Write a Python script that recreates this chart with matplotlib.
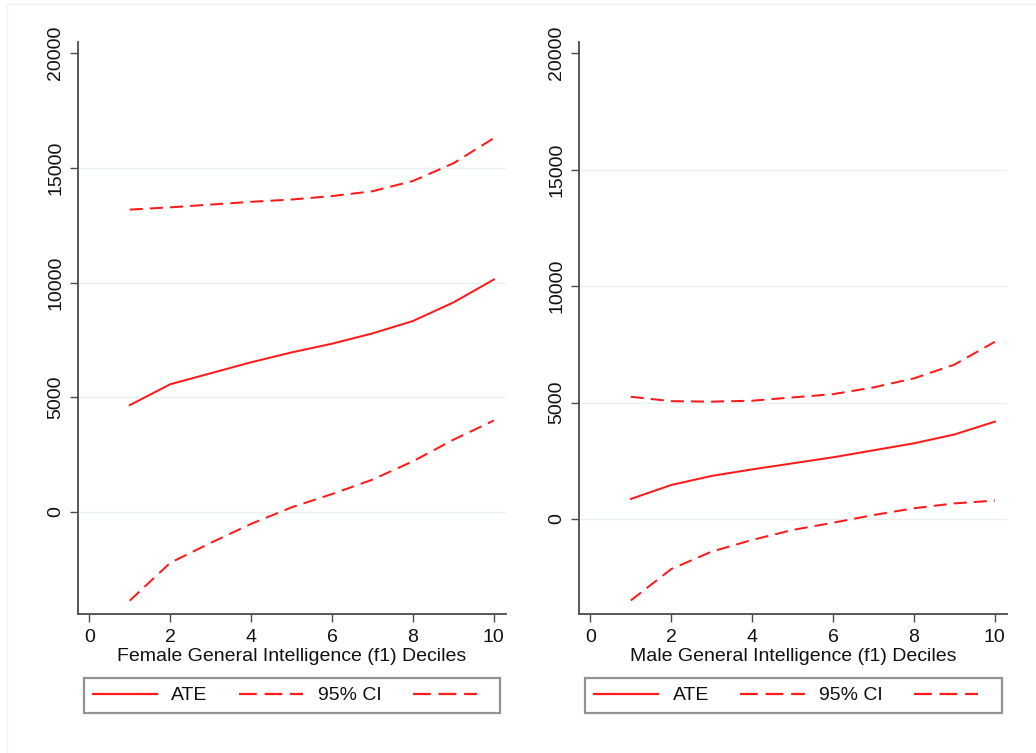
import sys
import numpy as np
import matplotlib
matplotlib.use("Agg")
import matplotlib.pyplot as plt
from matplotlib.lines import Line2D

plt.rcParams["font.family"] = ["Liberation Sans", "DejaVu Sans"]

DECILES = [1, 2, 3, 4, 5, 6, 7, 8, 9, 10]

FEMALE_ATE = [4650, 5560, 6040, 6520, 6950, 7330, 7780, 8320, 9130, 10130]
FEMALE_HI  = [13180, 13280, 13400, 13520, 13620, 13770, 13980, 14430, 15200, 16300]
FEMALE_LO  = [-3880, -2230, -1360, -530, 190, 770, 1400, 2200, 3140, 3980]

MALE_ATE = [860, 1460, 1850, 2130, 2390, 2650, 2950, 3250, 3630, 4180]
MALE_HI  = [5250, 5060, 5040, 5080, 5220, 5360, 5650, 6040, 6630, 7610]
MALE_LO  = [-3500, -2150, -1400, -900, -470, -160, 170, 460, 670, 790]

Y_TICKS = [0, 5000, 10000, 15000, 20000]
X_TICKS = [0, 2, 4, 6, 8, 10]
LEGEND_LABELS = ["ATE", "95% CI", ""]

W, H = 1036, 753
FS = 14
RED = "#ff1a1a"
AXIS_COLOR = "#4a4a4a"
GRID_COLOR = "#e8f0f1"
DASH = (0, (6.5, 3.5))
LEGEND_DASH = (0, (8, 3.5))


def px_box(left, top, right, bottom):
    # pixel box -> figure fraction [x0, y0, w, h]
    return [left / W, 1 - bottom / H, (right - left) / W, (bottom - top) / H]


def draw_panel(fig, box, ylim, ate, hi, lo, xlabel, legend_center):
    ax = fig.add_axes(box)
    ax.set_xlim(-0.28, 10.3)
    ax.set_ylim(*ylim)

    for y in Y_TICKS[:-1]:
        ax.axhline(y, color=GRID_COLOR, lw=1.0, zorder=0)

    ax.plot(DECILES, ate, color=RED, lw=1.45)
    ax.plot(DECILES, hi, color=RED, lw=1.45, linestyle=DASH)
    ax.plot(DECILES, lo, color=RED, lw=1.45, linestyle=DASH)

    for side in ("top", "right"):
        ax.spines[side].set_visible(False)
    for side in ("left", "bottom"):
        ax.spines[side].set_color(AXIS_COLOR)
        ax.spines[side].set_linewidth(1.3)

    ax.set_xticks(X_TICKS)
    ax.set_yticks(Y_TICKS)
    ax.set_yticklabels([str(t) for t in Y_TICKS], rotation=90, va="center")
    ax.tick_params(axis="both", direction="out", length=6, width=1.0,
                   color=AXIS_COLOR, labelsize=FS, labelcolor="#111111")
    ax.tick_params(axis="y", pad=4)
    ax.tick_params(axis="x", pad=5)
    ax.set_xlabel(xlabel, fontsize=FS, labelpad=1, color="#111111")

    handles = [
        Line2D([], [], color=RED, lw=1.6),
        Line2D([], [], color=RED, lw=1.6, linestyle=LEGEND_DASH),
        Line2D([], [], color=RED, lw=1.6, linestyle=LEGEND_DASH),
    ]
    leg = fig.legend(handles, LEGEND_LABELS, loc="center",
                     bbox_to_anchor=(legend_center[0] / W, 1 - legend_center[1] / H),
                     ncol=3, fontsize=FS, frameon=True, fancybox=False,
                     handlelength=3.3, handletextpad=0.75, columnspacing=1.6,
                     borderpad=0.45, borderaxespad=0)
    leg.get_frame().set_edgecolor("#777777")
    leg.get_frame().set_linewidth(1.6)
    for txt in leg.get_texts():
        txt.set_color("#111111")
    return ax


def main():
    fig = plt.figure(figsize=(W / 100, H / 100), dpi=100)
    fig.patch.set_facecolor("white")

    # faint outer frame lines
    fig.add_artist(Line2D([7 / W, 1], [1 - 4 / H, 1 - 4 / H], color="#f2f2f2", lw=1.0))
    fig.add_artist(Line2D([7 / W, 7 / W], [0, 1 - 4 / H], color="#f4f4f4", lw=1.0))

    draw_panel(fig, px_box(78, 42, 506, 614), (-4463, 20493),
               FEMALE_ATE, FEMALE_HI, FEMALE_LO,
               "Female General Intelligence (f1) Deciles", (292, 695.5))
    draw_panel(fig, px_box(579, 42, 1007, 614), (-4080, 20485),
               MALE_ATE, MALE_HI, MALE_LO,
               "Male General Intelligence (f1) Deciles", (793.5, 695.5))

    fig.savefig("out.png", dpi=100, facecolor="white")


if __name__ == "__main__":
    sys.exit(main() or 0)
